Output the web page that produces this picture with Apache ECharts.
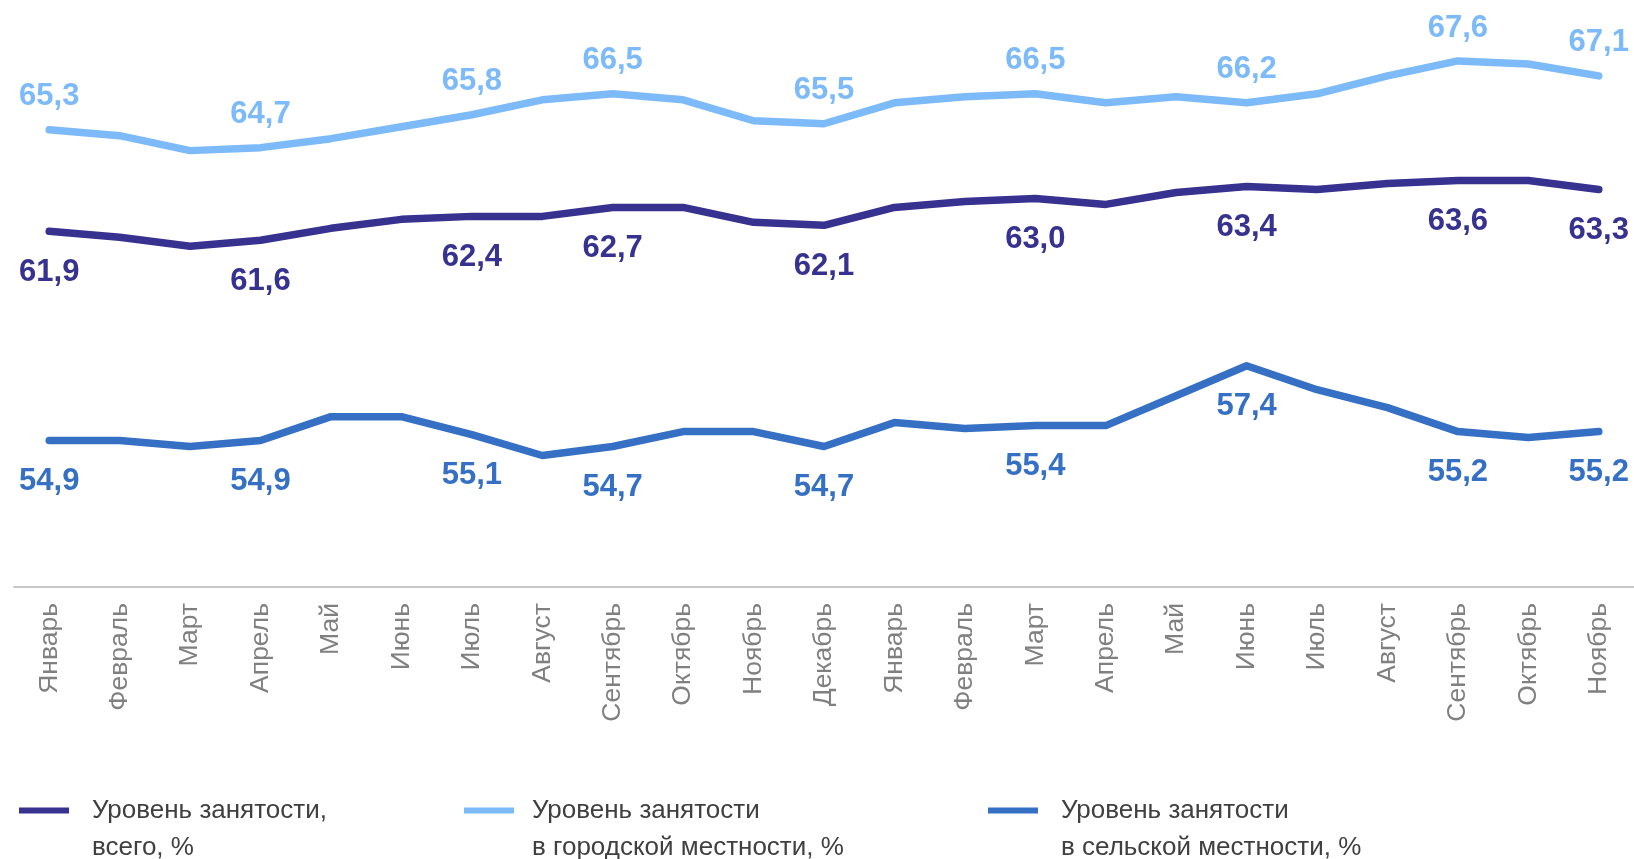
<!DOCTYPE html>
<html>
<head>
<meta charset="utf-8">
<script src="https://cdn.jsdelivr.net/npm/echarts@6/dist/echarts.min.js"></script>
<style>
  html, body { margin: 0; padding: 0; background: #fff; }
  #chart { width: 1634px; height: 859px; }
</style>
</head>
<body>
<div id="chart"></div>
<script>
const months = ['Январь', 'Февраль', 'Март', 'Апрель', 'Май', 'Июнь', 'Июль', 'Август',
  'Сентябрь', 'Октябрь', 'Ноябрь', 'Декабрь', 'Январь', 'Февраль', 'Март', 'Апрель',
  'Май', 'Июнь', 'Июль', 'Август', 'Сентябрь', 'Октябрь', 'Ноябрь']

const total = [61.9, 61.7, 61.4, 61.6, 62.0, 62.3, 62.4, 62.4, 62.7, 62.7, 62.2, 62.1,
  62.7, 62.9, 63.0, 62.8, 63.2, 63.4, 63.3, 63.5, 63.6, 63.6, 63.3]
const urban = [65.3, 65.1, 64.6, 64.7, 65.0, 65.4, 65.8, 66.3, 66.5, 66.3, 65.6, 65.5,
  66.2, 66.4, 66.5, 66.2, 66.4, 66.2, 66.5, 67.1, 67.6, 67.5, 67.1]
const rural = [54.9, 54.9, 54.7, 54.9, 55.7, 55.7, 55.1, 54.4, 54.7, 55.2, 55.2, 54.7,
  55.5, 55.3, 55.4, 55.4, 56.4, 57.4, 56.6, 56.0, 55.2, 55.0, 55.2]

// points that carry a value label
const labelIdx = [0, 3, 6, 8, 11, 14, 17, 20, 22]

const names = ['Уровень занятости,\nвсего, %',
  'Уровень занятости\nв городской местности, %',
  'Уровень занятости\nв сельской местности, %']
const colors = ['#37318f', '#7dbaf9', '#3570c4']

const font = "'Liberation Sans', Arial, sans-serif"

const chart = echarts.init(document.getElementById('chart'))

let makeSeries = (name, values, color, pos) => {
  return {
    name: name,
    type: 'line',
    symbol: 'circle',
    symbolSize: 0,
    showSymbol: true,
    lineStyle: { color: color, width: 7.5, cap: 'round', join: 'round' },
    itemStyle: { color: color },
    data: values.map((v, i) => ({
      value: v,
      label: { show: labelIdx.includes(i) }
    })),
    label: {
      position: pos,
      distance: pos === 'top' ? 17.5 : 25.5,
      color: color,
      fontFamily: font,
      fontWeight: 'bold',
      fontSize: 31,
      formatter: p => p.value.toFixed(1).replace('.', ',')
    },
    silent: true,
    animation: false
  }
}

// leading empty line keeps the icon level with the first text line
let makeLegend = (name, left, gap) => ({
  data: [name],
  left: left,
  top: 750,
  icon: 'rect',
  itemWidth: 50,
  itemHeight: 6,
  selectedMode: false,
  formatter: n => '\n' + n,
  textStyle: {
    color: '#404040',
    fontFamily: font,
    fontSize: 26,
    lineHeight: 37,
    padding: [0, 0, 0, gap]
  }
})

const option = {
  backgroundColor: '#ffffff',
  grid: { left: 14, right: 0, top: 49, bottom: 272, containLabel: false },
  legend: [
    makeLegend(names[0], 14, 18),
    makeLegend(names[1], 459, 13),
    makeLegend(names[2], 983, 18)
  ],
  xAxis: {
    type: 'category',
    data: months,
    boundaryGap: true,
    axisLine: { lineStyle: { color: '#c8c8c8', width: 2 } },
    axisTick: { show: false },
    axisLabel: {
      rotate: 90,
      margin: 16,
      interval: 0,
      color: '#808080',
      fontFamily: font,
      fontSize: 26.5
    }
  },
  yAxis: {
    type: 'value',
    min: 50,
    max: 68,
    show: false,
    splitLine: { show: false }
  },
  series: [
    makeSeries(names[0], total, colors[0], 'bottom'),
    makeSeries(names[1], urban, colors[1], 'top'),
    makeSeries(names[2], rural, colors[2], 'bottom')
  ]
}

chart.setOption(option)
</script>
</body>
</html>
